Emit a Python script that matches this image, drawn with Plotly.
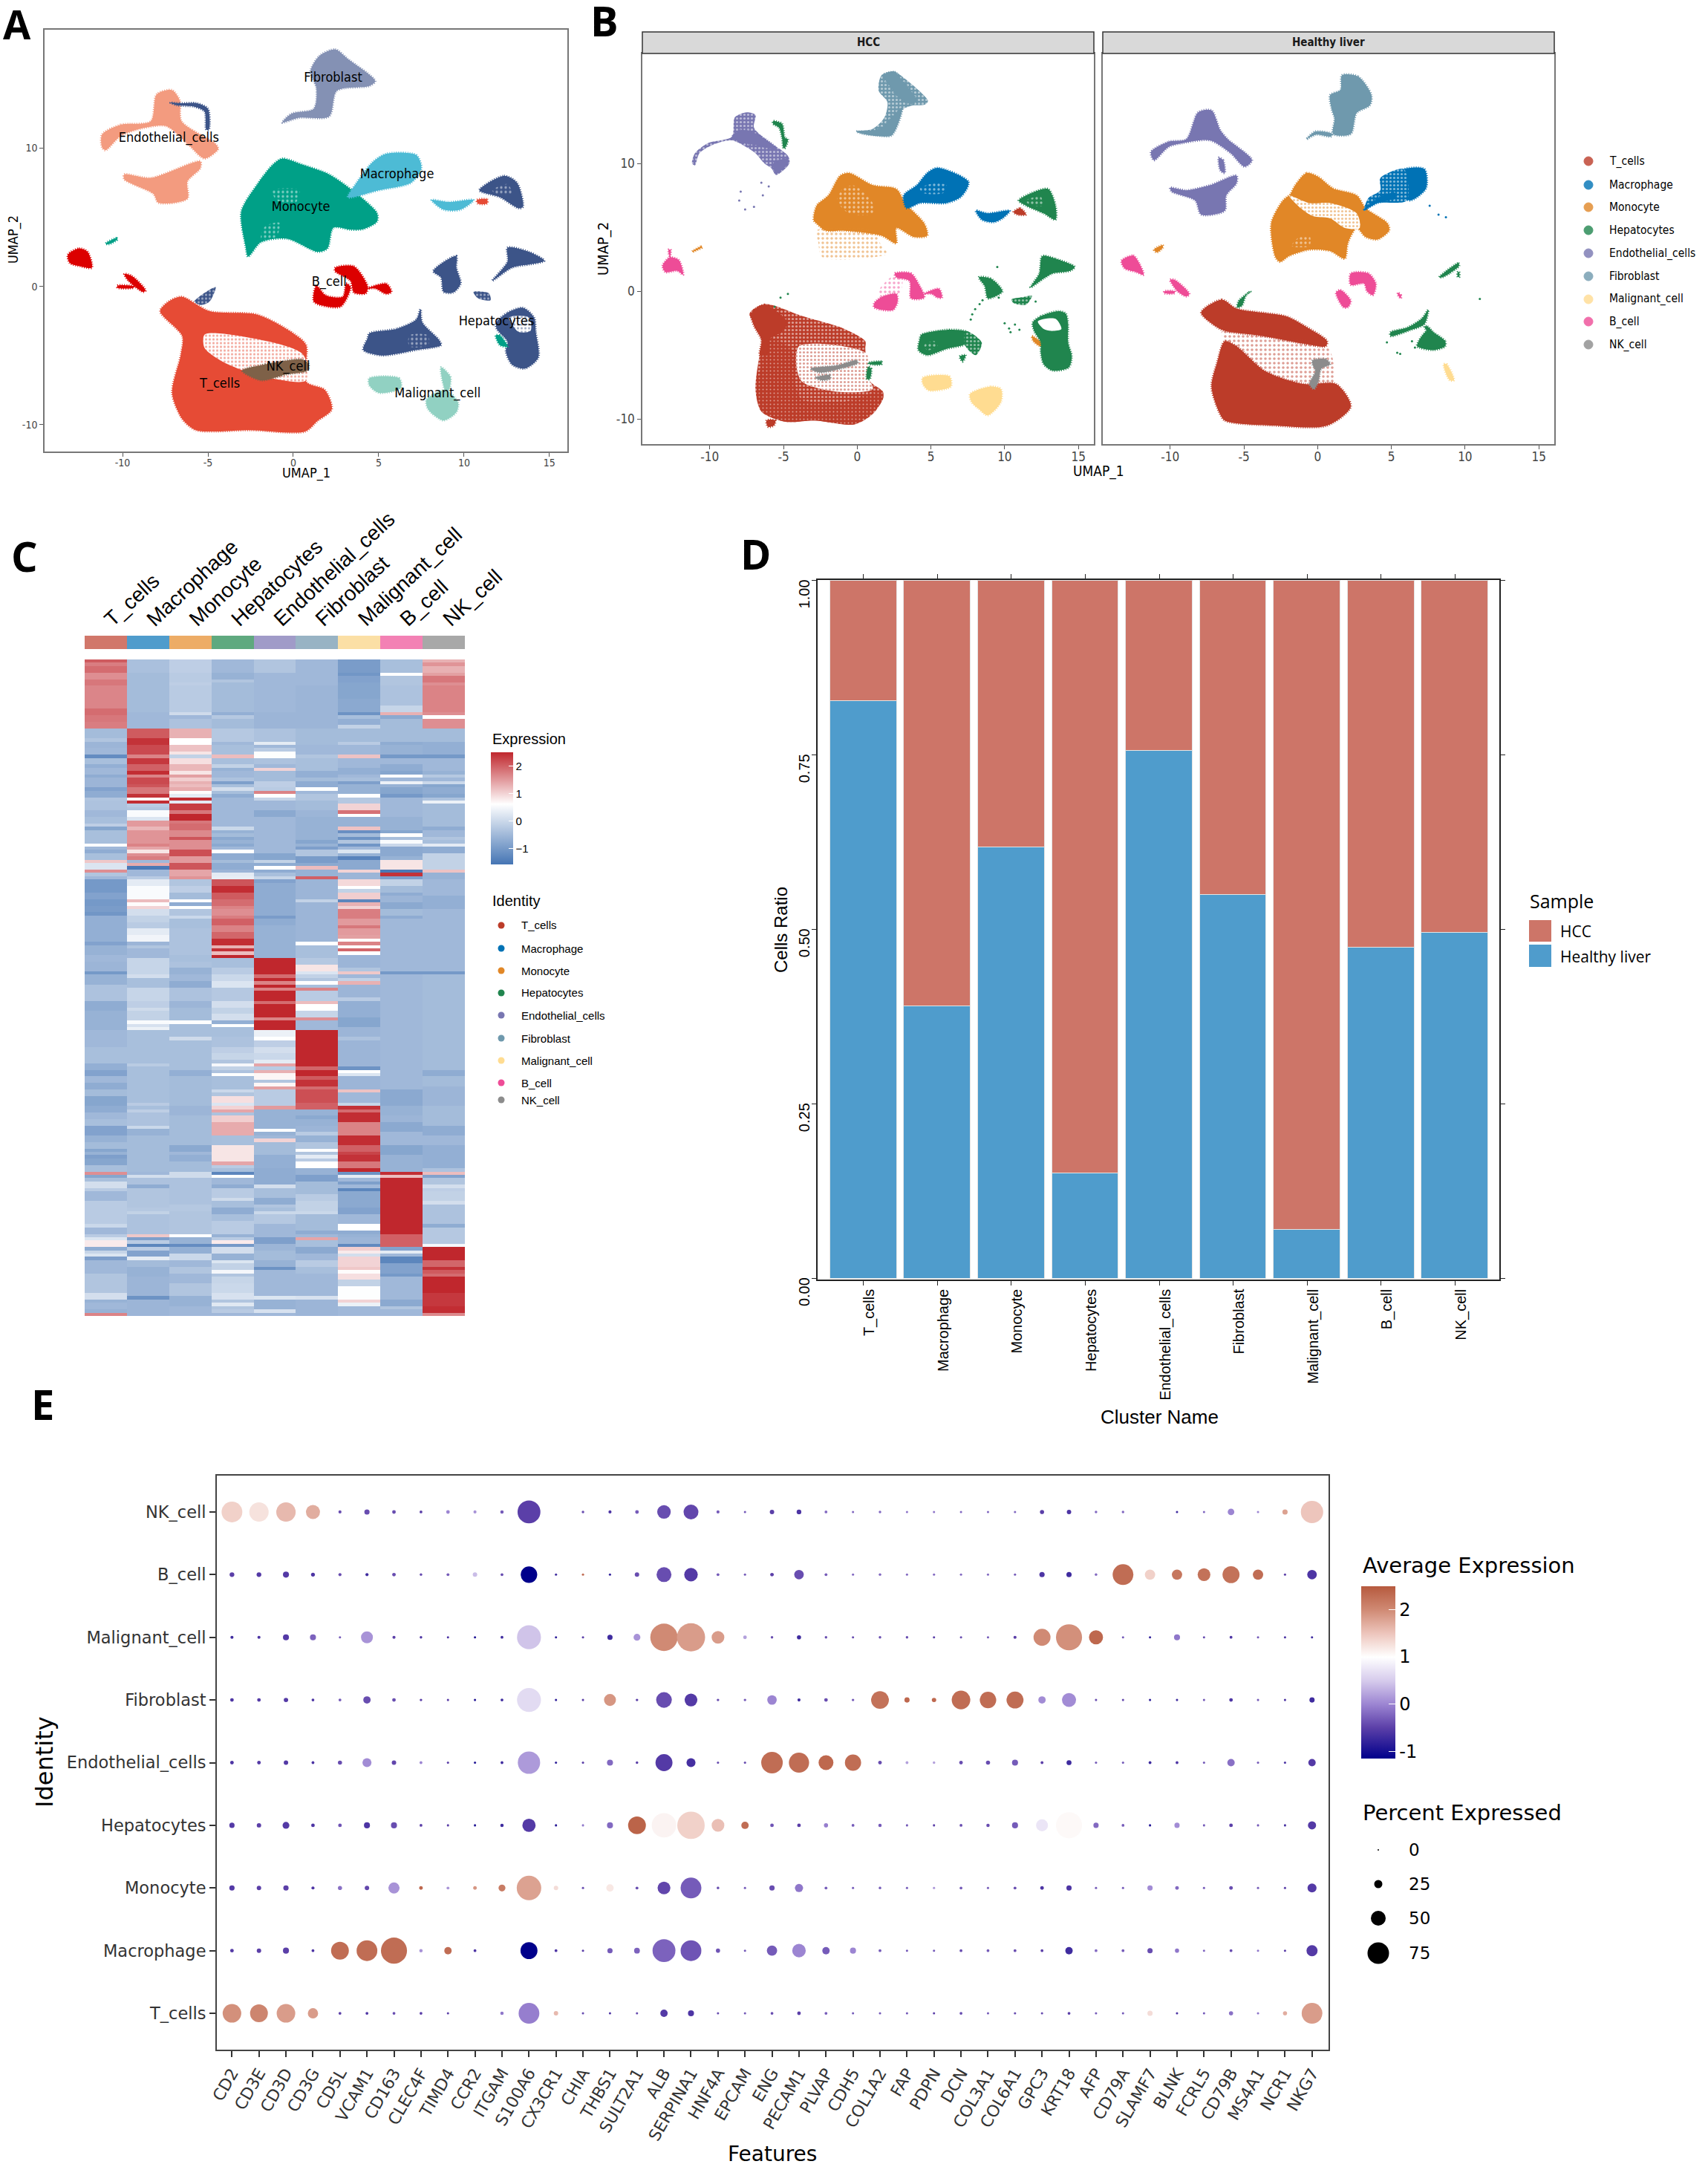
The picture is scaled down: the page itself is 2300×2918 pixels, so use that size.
"""Five-panel single-cell figure: UMAPs, marker heatmap, sample ratio bars, dot plot."""

import plotly.graph_objects as go

W, H = 2300, 2918

CLUSTERS = ["T_cells", "Macrophage", "Monocyte", "Hepatocytes", "Endothelial_cells",
            "Fibroblast", "Malignant_cell", "B_cell", "NK_cell"]

NPG = {"T_cells": "#E64B35", "Macrophage": "#4DBBD5", "Monocyte": "#00A087",
       "Hepatocytes": "#3C5488", "Endothelial_cells": "#F39B7F", "Fibroblast": "#8491B4",
       "Malignant_cell": "#91D1C2", "B_cell": "#DC0000", "NK_cell": "#7E6148"}
NEJM = {"T_cells": "#BC3C29", "Macrophage": "#0072B5", "Monocyte": "#E18727",
        "Hepatocytes": "#20854E", "Endothelial_cells": "#7876B1", "Fibroblast": "#6F99AD",
        "Malignant_cell": "#FFDC91", "B_cell": "#EE4C97", "NK_cell": "#8C8C8C"}
ANNO_COLORS = ["#D1776A", "#4F9CCC", "#EDAC66", "#5FA97F", "#A09BC8",
               "#98B3C4", "#FBDFA5", "#F381B4", "#A8A8A8"]

# ---- Panel A: cluster outlines (UMAP_1, UMAP_2)
A_T = [(-7.8,-1.8),(-7.3,-1.1),(-6.55,-0.75),(-4.9,-1.8),(-2.1,-2.05),(0,-3.4),(0.75,-4.25),(0.75,-6.9),(1.85,-7.5),(2.25,-8.9),(1.4,-9.75),(0.7,-10.5),(-2.5,-10.4),(-5.7,-10.4),(-6.5,-9.6),(-7.1,-7.7),(-6.6,-5),(-6.5,-3.6)]
A_T_VOID = [(-5.2,-3.5),(-3.65,-3.5),(0.55,-4.9),(0.75,-6.8),(-1.65,-6.55),(-3.9,-5.6),(-5.2,-4.45)]
A_NK = [(-3,-6.1),(-1.65,-5.65),(0.55,-5.3),(0.9,-5.65),(0.8,-6.1),(-0.35,-6.35),(-1.9,-6.8)]
A_ENDO_1 = [(-11.2,11),(-10.1,11.7),(-8.35,11.95),(-8,13.9),(-7.1,14.2),(-6.65,13.45),(-6.55,11.95),(-4.55,10.3),(-4.4,9.95),(-5.2,9.25),(-6.1,10.2),(-7.45,11.6),(-8.8,11.45),(-10.1,10.9),(-11,9.85),(-11.2,10.05)]
A_ENDO_2 = [(-9.9,8.1),(-8.35,7.85),(-5.45,9.05),(-5.45,8.55),(-6.2,7.6),(-6.2,6.35),(-7.9,6.05),(-8.2,6.7),(-9.9,7.75)]
A_HEP_1 = [(-7.2,13.3),(-6.65,13.25),(-5.65,13.25),(-5,12.85),(-4.95,11.35),(-5.1,11.35),(-5.2,12.65),(-5.8,13),(-6.8,13.1)]
A_FIB = [(1.55,16.7),(2.45,17.15),(3.2,16.45),(4.8,14.85),(4.45,14.5),(2.55,14.15),(2.1,12.3),(0.35,12.2),(-0.65,11.85),(-0.1,12.5),(1.2,12.85),(1.35,14.35),(1,15.55)]
A_MONO = [(-1.2,8.8),(-0.65,9.25),(0.55,8.8),(2.1,8.1),(3.45,6.95),(4.9,5.3),(4.9,4.7),(4.1,4.15),(3.35,4.1),(2.35,4.25),(2,2.75),(1.45,2.5),(-0.35,3.45),(-1.9,3.2),(-2.65,2.15),(-2.8,2.95),(-3.05,5.4),(-2.1,7.4)]
A_MONO_VOID_1 = [(-1.65,4.35),(-0.8,4.6),(-1,3.6),(-1.9,3.4)]
A_MONO_VOID_2 = [(-1.2,6.95),(0.35,6.95),(0.1,6),(-1,6.25)]
A_MAC_1 = [(5.45,9.6),(7.2,9.5),(7.5,8.55),(6.9,7.5),(5,6.95),(3.2,6.45),(3.65,7.4),(4.65,9)]
A_MAC_2 = [(8.1,6.25),(9.1,6.1),(10.55,6.25),(9.8,5.55),(8.8,5.55)]
A_HEP_2 = [(10.9,6.95),(12.35,8),(13.1,7.5),(13.45,5.75),(13.2,5.65),(12.1,6.45)]
A_HEP_2_VOID = [(11.65,6.95),(12.55,7.4),(12.8,6.7),(11.9,6.7)]
A_T_2 = [(10.75,6.25),(11.35,6.3),(11.35,6),(10.8,6)]
A_B_1 = [(-13.2,2.3),(-12.55,2.75),(-12.05,2.5),(-11.8,1.35),(-12.45,1.45),(-13.1,1.7)]
A_B_2 = [(-9.9,0.9),(-9.45,0.75),(-8.65,-0.3),(-8.8,-0.4),(-9.65,0.4)]
A_B_3 = [(-10.3,0.05),(-9.35,0),(-9.35,-0.1),(-10.3,-0.1)]
A_B_4 = [(2.45,1.35),(3.55,1.45),(4.35,0),(4.25,-0.5),(3.55,-0.45),(3.35,0.4),(2.45,1.1)]
A_B_5 = [(1.35,0.05),(1.9,-0.65),(2.9,-0.75),(3.1,0.2),(3.35,-0.05),(2.8,-1.45),(1.9,-1.45),(1.2,-1.1)]
A_B_6 = [(4.35,-0.15),(5.45,0.2),(5.75,-0.4),(5.45,-0.55),(4.8,-0.15)]
A_MONO_2 = [(-11,3.1),(-10.35,3.5),(-10.3,3.4),(-10.8,3.05)]
A_HEP_3 = [(4.45,-3.4),(6.1,-3.05),(7.2,-2.4),(7.45,-1.65),(7.55,-2.6),(8.55,-3.9),(8.65,-4.25),(7.2,-4.6),(5.2,-5),(4.1,-4.6),(4.35,-3.75)]
A_HEP_3_VOID = [(6.8,-3.55),(7.9,-3.55),(7.9,-4.25),(6.8,-4.35)]
A_HEP_4 = [(11.9,-2.6),(12.55,-1.9),(13.45,-1.55),(14.1,-2.25),(14.2,-3.3),(14.35,-5.15),(13.55,-5.95),(12.8,-5.65),(12.45,-4.7),(12.55,-4),(11.9,-3.05)]
A_HEP_4_VOID = [(12.65,-2.25),(13.8,-2.25),(13.9,-3.2),(13.2,-3.3)]
A_HEP_5 = [(12.55,2.8),(13.8,2.5),(14.7,1.85),(13.9,1.6),(12.8,1.35),(11.65,0.4),(12.55,1.8)]
A_HEP_6 = [(8.2,1.1),(9.55,2.2),(9.55,1.35),(9.8,0.2),(9.35,-0.45),(8.8,-0.4),(8.65,0.65)]
A_HEP_7 = [(10.55,-0.4),(11.45,-0.5),(11.55,-1),(10.8,-0.85)]
A_HEP_8 = [(-5.8,-1.1),(-4.55,-0.05),(-4.9,-1.1),(-5.4,-1.35)]
A_MONO_3 = [(11.85,-3.55),(12.1,-3.55),(12.55,-4.35),(12.1,-4.25)]
A_MAL_1 = [(4.45,-6.65),(6.2,-6.65),(6.3,-7.35),(5,-7.7),(4.45,-7.15)]
A_MAL_2 = [(7.8,-8.2),(8.9,-7.5),(9.65,-8.4),(9.55,-9.1),(8.8,-9.7),(7.9,-8.9)]
A_MAL_3 = [(8.65,-5.85),(9.2,-6.55),(9.1,-7.5),(8.9,-7.5)]

A_LAYERS = [("T_cells", "solid", A_T), ("T_cells", "void", A_T_VOID), ("NK_cell", "solid", A_NK),
            ("Endothelial_cells", "solid", A_ENDO_1), ("Endothelial_cells", "solid", A_ENDO_2),
            ("Hepatocytes", "solid", A_HEP_1), ("Fibroblast", "solid", A_FIB),
            ("Monocyte", "solid", A_MONO), ("Monocyte", "pock", A_MONO_VOID_1), ("Monocyte", "pock", A_MONO_VOID_2),
            ("Macrophage", "solid", A_MAC_1), ("Macrophage", "solid", A_MAC_2),
            ("Hepatocytes", "solid", A_HEP_2), ("Hepatocytes", "pock", A_HEP_2_VOID), ("T_cells", "solid", A_T_2),
            ("B_cell", "solid", A_B_1), ("B_cell", "solid", A_B_2), ("B_cell", "solid", A_B_3),
            ("B_cell", "solid", A_B_4), ("B_cell", "solid", A_B_5), ("B_cell", "solid", A_B_6),
            ("Monocyte", "solid", A_MONO_2), ("Hepatocytes", "solid", A_HEP_3), ("Hepatocytes", "pock", A_HEP_3_VOID),
            ("Hepatocytes", "solid", A_HEP_4), ("Hepatocytes", "void", A_HEP_4_VOID), ("Monocyte", "solid", A_MONO_3),
            ("Hepatocytes", "solid", A_HEP_5), ("Hepatocytes", "solid", A_HEP_6), ("Hepatocytes", "mid", A_HEP_7),
            ("Hepatocytes", "mid", A_HEP_8), ("Malignant_cell", "solid", A_MAL_1),
            ("Malignant_cell", "solid", A_MAL_2), ("Malignant_cell", "solid", A_MAL_3)]

A_LABELS = ["Fibroblast", "Endothelial_cells", "Macrophage", "Monocyte", "B_cell",
            "Hepatocytes", "NK_cell", "T_cells", "Malignant_cell"]
A_LABEL_X = [2.33, -7.29, 6.07, 0.44, 2.1, 11.9, -0.3, -4.3, 8.45]
A_LABEL_Y = [15.07, 10.7, 8.05, 5.7, 0.3, -2.55, -5.86, -7.07, -7.77]

# ---- Panel B, HCC
HCC_T = [(-7.3,-1.75),(-6.3,-1),(-3.7,-1.95),(-0.95,-2.9),(0.55,-3.9),(0.55,-4.5),(0.85,-7),(1.75,-7.85),(1.75,-8.4),(1.05,-9.6),(-0.15,-10.4),(-2.9,-10.1),(-4.9,-10.2),(-6.5,-9.4),(-6.9,-7.7),(-6.7,-5.5),(-6.4,-3.5)]
HCC_T_VOID = [(-3.95,-4.3),(-2.55,-4.1),(0.65,-4.9),(0.75,-6.65),(1.05,-7.65),(-1.35,-7.85),(-3.75,-7.05),(-4.15,-5.5)]
HCC_T_DENSE = [(-6.8,-7.65),(-6.5,-5.7),(-6,-3.7),(-4.5,-4.5),(-4.15,-7.45),(-3.75,-8.45),(-0.95,-8.65),(1.65,-7.85),(1.75,-8.4),(0.85,-9.6),(-0.15,-10.4),(-2.9,-10.1),(-4.9,-10.2),(-6.5,-9.4)]
HCC_T_BLOB = [(-7.2,-1.75),(-6.3,-1.05),(-5.5,-1.55),(-4.7,-2.5),(-5.3,-3.3),(-5.9,-3.7),(-6.1,-4.9),(-6.6,-5),(-6.5,-3.8),(-7,-2.7)]
HCC_T_FOOT = [(-6.15,-10.1),(-5.55,-10.1),(-5.65,-10.5),(-6.05,-10.6)]
HCC_T_2 = [(10.6,6.2),(11.05,6.5),(11.45,6),(10.85,6)]
HCC_NK_1 = [(-3.15,-6.05),(-1.35,-5.8),(-0.05,-5.4),(0.05,-5.6),(-1.15,-6.05),(-2.55,-6.35)]
HCC_NK_2 = [(-2.85,-6.75),(-1.85,-6.55),(-1.85,-6.85),(-2.45,-6.95)]
HCC_ENDO = [(-11.2,10),(-11,10.8),(-10.1,11.6),(-8.5,12.1),(-8.3,13.6),(-7.5,14),(-6.9,13.8),(-7,12.8),(-6.1,11.8),(-4.7,10.6),(-4.6,10),(-5.5,9.1),(-5.8,9.6),(-6.3,10),(-6.9,10.8),(-7.7,11.4),(-8.5,11.8),(-9.7,11.5),(-10.7,10.8),(-11,9.85)]
HCC_ENDO_1 = [(-8.5,12),(-7.9,12.6),(-7,12.4),(-5.5,11.2),(-5.7,11.1),(-6.7,11.4),(-7.7,11.6)]
HCC_ENDO_2 = [(-5.7,10),(-4.7,10.4),(-4.7,10),(-5.5,9.2)]
HCC_HEP_STRIP = [(-5.7,13.3),(-5.1,13.1),(-4.9,12),(-4.7,11.9),(-4.9,11.2),(-5,11.2),(-5.1,12),(-5.3,12.8),(-5.7,13.1)]
HCC_FIB = [(1.65,16.9),(2.45,17.2),(3.05,16.8),(4.8,14.9),(4.6,14.6),(3.65,14.5),(2.65,13.9),(2.25,12.2),(0.05,12.4),(-0.05,12.5),(1.05,12.7),(1.85,13.6),(2.05,14.8),(1.45,15.7)]
HCC_FIB_1 = [(1.75,16.9),(2.55,17.15),(3.05,16.5),(4.05,14.9),(3.65,14.65),(2.85,15.1),(2.05,16.3)]
HCC_FIB_2 = [(-0.05,12.5),(0.65,12.5),(1.65,12.8),(2.65,14),(3.05,14.3),(2.35,12.2),(1.25,12.2),(0.45,12.3)]
HCC_MONO = [(-1.15,9.05),(-0.55,9.25),(1.05,8.3),(2.65,8),(3.25,6.9),(4.55,5.3),(4.75,4.35),(3.85,4.25),(2.65,4.95),(2.65,3.75),(1.65,4.35),(-0.95,4.75),(-2.15,4.75),(-2.75,5.3),(-2.95,5.55),(-2.75,6.7),(-1.95,7.5)]
HCC_MONO_VOID = [(-0.95,8.05),(-0.15,8.25),(1.05,6.9),(1.05,6.1),(-0.55,6.1),(-1.35,7.1)]
HCC_MONO_TAIL = [(-2.75,4.75),(1.05,4.75),(1.65,3.55),(2.05,2.95),(-2.35,2.65),(-2.65,3.9)]
HCC_MONO_2 = [(-11.2,3.1),(-10.6,3.5),(-10.5,3.45),(-11,3.15)]
HCC_MONO_3 = [(11.85,-3.5),(12.55,-4.1),(12.45,-4.3),(11.95,-3.9)]
HCC_MAC_1 = [(5.45,9.65),(7.55,8.55),(7.05,7.4),(6.05,6.9),(4.25,6.9),(3.35,6.5),(3.15,7.5),(4.05,8.3),(4.75,9.25)]
HCC_MAC_VOID = [(4.25,8.05),(5.25,8.45),(6.05,8.3),(5.85,7.7),(4.45,7.7)]
HCC_MAC_2 = [(8.05,6.3),(8.85,6.1),(10.35,6.3),(9.85,5.7),(9.25,5.4),(8.45,5.6)]
HCC_HEP_1 = [(10.95,7.1),(11.85,7.7),(12.95,8),(13.45,6.7),(13.45,5.6),(12.65,6.1),(11.45,6.7)]
HCC_HEP_1_VOID = [(11.45,7.1),(12.45,7.4),(12.55,6.7),(11.65,6.8)]
HCC_B_1 = [(-13.2,2),(-12.7,2.65),(-12.1,2.45),(-11.8,1.3),(-12.2,1.6),(-13,1.5)]
HCC_B_2 = [(-12.8,3.25),(-12.65,3.25),(-12.7,2.65)]
HCC_B_3 = [(2.55,1.4),(3.65,1.4),(4.25,0.4),(4.55,-0.5),(3.65,-0.55),(3.55,0.8),(2.65,1.1)]
HCC_B_4 = [(1.15,-0.95),(1.65,-0.45),(2.65,-0.2),(2.75,-0.75),(2.45,-1.45),(1.65,-1.45),(1.15,-1.25)]
HCC_B_5 = [(4.55,-0.2),(5.55,0.2),(5.75,-0.5),(5.45,-0.5),(5.05,-0.2)]
HCC_B_6 = [(1.45,0),(2.45,1.2),(3.05,1),(2.85,-0.2),(1.65,-0.45)]
HCC_HEP_2 = [(12.55,2.75),(13.45,2.55),(14.75,1.9),(14.45,1.6),(13.25,1.4),(12.65,1),(11.75,0.3),(12.35,1.4)]
HCC_HEP_3 = [(8.25,1.1),(9.05,1),(9.85,0),(9.25,-0.45),(8.85,-0.55),(8.65,0.4)]
HCC_HEP_4 = [(10.45,-0.65),(11.25,-0.45),(11.85,-0.35),(11.45,-1.05),(10.65,-0.95)]
HCC_HEP_5 = [(11.9,-2.45),(12.45,-1.95),(13.65,-1.55),(14.15,-1.75),(14.3,-2.55),(14.3,-4),(14.55,-5.1),(14.35,-5.95),(13.25,-6.2),(12.65,-5.7),(12.45,-4.8),(12.45,-4),(12,-3.1)]
HCC_HEP_5_CUT = [(12.25,-2.35),(13.45,-2.15),(13.85,-2.95),(13.15,-3.1),(12.65,-2.95)]
HCC_HEP_6 = [(4.35,-3.4),(6.25,-3),(7.45,-3.2),(7.35,-4.1),(6.05,-4.5),(4.75,-5),(4.15,-4.6),(4.25,-3.7)]
HCC_HEP_6_VOID = [(4.55,-4.2),(5.25,-3.9),(5.45,-4.3),(4.75,-4.6)]
HCC_HEP_7 = [(7.35,-3.1),(8.45,-4),(8.05,-5),(7.35,-4.3)]
HCC_HEP_8 = [(6.95,-5.1),(7.35,-5),(7.15,-5.5)]
HCC_HEP_9 = [(0.75,-5.9),(0.95,-6.05),(0.85,-6.85),(0.65,-6.85)]
HCC_HEP_10 = [(0.75,-5.6),(1.65,-5.5),(1.65,-5.7),(0.85,-5.7)]
HCC_MAL_1 = [(4.45,-6.75),(6.25,-6.65),(6.35,-7.45),(4.85,-7.75),(4.45,-7.25)]
HCC_MAL_2 = [(7.65,-8.05),(9.05,-7.45),(9.75,-7.65),(9.75,-8.65),(8.85,-9.7),(8.25,-9.2),(7.75,-8.65)]

HCC_LAYERS = [("T_cells", "mid", HCC_T), ("T_cells", "void", HCC_T_VOID), ("T_cells", "dense", HCC_T_DENSE),
              ("T_cells", "solid", HCC_T_BLOB), ("T_cells", "solid", HCC_T_FOOT), ("T_cells", "solid", HCC_T_2),
              ("NK_cell", "solid", HCC_NK_1), ("NK_cell", "solid", HCC_NK_2),
              ("Endothelial_cells", "mid", HCC_ENDO), ("Endothelial_cells", "solid", HCC_ENDO_1),
              ("Endothelial_cells", "solid", HCC_ENDO_2), ("Hepatocytes", "solid", HCC_HEP_STRIP),
              ("Fibroblast", "mid", HCC_FIB), ("Fibroblast", "solid", HCC_FIB_1), ("Fibroblast", "solid", HCC_FIB_2),
              ("Monocyte", "solid", HCC_MONO), ("Monocyte", "pock", HCC_MONO_VOID), ("Monocyte", "thin", HCC_MONO_TAIL),
              ("Monocyte", "solid", HCC_MONO_2), ("Monocyte", "solid", HCC_MONO_3),
              ("Macrophage", "solid", HCC_MAC_1), ("Macrophage", "pock", HCC_MAC_VOID), ("Macrophage", "solid", HCC_MAC_2),
              ("Hepatocytes", "solid", HCC_HEP_1), ("Hepatocytes", "pock", HCC_HEP_1_VOID),
              ("B_cell", "solid", HCC_B_1), ("B_cell", "solid", HCC_B_2), ("B_cell", "solid", HCC_B_3),
              ("B_cell", "solid", HCC_B_4), ("B_cell", "solid", HCC_B_5), ("B_cell", "thin", HCC_B_6),
              ("Hepatocytes", "solid", HCC_HEP_2), ("Hepatocytes", "solid", HCC_HEP_3), ("Hepatocytes", "mid", HCC_HEP_4),
              ("Hepatocytes", "solid", HCC_HEP_5), ("Hepatocytes", "cut", HCC_HEP_5_CUT),
              ("Hepatocytes", "solid", HCC_HEP_6), ("Hepatocytes", "pock", HCC_HEP_6_VOID), ("Hepatocytes", "mid", HCC_HEP_7),
              ("Hepatocytes", "solid", HCC_HEP_8), ("Hepatocytes", "solid", HCC_HEP_9), ("Hepatocytes", "solid", HCC_HEP_10),
              ("Malignant_cell", "solid", HCC_MAL_1), ("Malignant_cell", "solid", HCC_MAL_2)]

HCC_STRAY_ENDO_X = [-6.5, -7.9, -8, -7.6, -7, -6.4, -6]
HCC_STRAY_ENDO_Y = [8.5, 7.8, 7.1, 6.4, 6.6, 7.5, 8.2]
HCC_STRAY_HEP_X = [-4.7, -5.2, -5.6, 9.5, 8.5, 8.3, 8, 7.8, 7.7, 10, 10.3, 10.7, 11, 10.4, 9.6, 12.1]
HCC_STRAY_HEP_Y = [-0.2, -0.5, -1.2, 1.9, -0.7, -1, -1.4, -1.8, -2.2, -2.5, -2.9, -2.6, -3, -3.2, -0.5, -0.8]

# ---- Panel B, Healthy liver
HL_T_1 = [(-7.9,-1.65),(-6.5,-0.65),(-5.5,-1.35),(-2.15,-1.95),(-0.95,-2.65),(0.65,-3.9),(0.55,-4.3),(-0.95,-4.1),(-3.75,-3.5),(-6.3,-3.1),(-6.9,-2.75)]
HL_T_2 = [(-6.3,-3.9),(-5.5,-4.3),(-3.55,-6.25),(-0.95,-7.25),(1.25,-7.25),(2.25,-9),(0.65,-10.5),(-2.95,-10.5),(-6.3,-10.1),(-6.7,-9.4),(-7.2,-7.45),(-6.8,-5.5)]
HL_T_MID = [(-6.5,-3.1),(-3.75,-3.5),(0.65,-4.3),(1.05,-7.25),(-0.95,-7.25),(-3.55,-6.25),(-5.5,-4.3),(-6.3,-3.9)]
HL_NK = [(-0.35,-5.4),(0.55,-5.3),(0.85,-5.7),(0.25,-6.05),(0.05,-7.05),(-0.25,-7.65),(-0.55,-7.25),(-0.15,-6.25),(-0.35,-5.7)]
HL_HEP_1 = [(-5.35,-0.75),(-4.55,0),(-4.85,-0.3),(-5.15,-1.15),(-5.45,-1.25)]
HL_ENDO_1 = [(-11.3,10.9),(-10.1,11.7),(-8.9,11.9),(-8.1,14),(-7.2,14.15),(-6.6,12.6),(-6.1,11.9),(-4.45,10.25),(-4.95,9.75),(-5.9,10.8),(-7.3,11.8),(-9.1,11.6),(-10.1,11.3),(-11.1,10.25)]
HL_ENDO_2 = [(-10,8.1),(-8.9,7.9),(-7.3,8.3),(-5.5,9.05),(-5.5,8.45),(-6.2,7.5),(-6.3,6.3),(-7.9,6),(-8.3,7.1),(-9.9,7.8)]
HL_ENDO_3 = [(-6.7,10.45),(-6.4,10.25),(-6.3,9.25),(-6.6,9.45)]
HL_FIB = [(1.65,16.9),(2.75,16.8),(3.65,15.35),(3.55,14.55),(2.65,13.95),(2.25,12.3),(1.05,12.3),(1.15,13.5),(0.95,14.25),(0.85,15.35),(1.55,15.75)]
HL_FIB_TAIL = [(-0.75,11.9),(-0.15,12.5),(1,12.3),(0.9,12.1),(-0.1,12.25)]
HL_MONO = [(-1.55,8.25),(-0.75,9.25),(0.05,8.95),(1.05,8.05),(2.65,7.5),(3.25,6.5),(4.75,5.3),(4.85,4.75),(4.05,4.05),(3.25,4.25),(2.65,4.95),(2.05,3.75),(1.85,2.55),(0.85,3.15),(-0.55,3.25),(-1.95,2.75),(-2.55,2.3),(-2.85,2.65),(-3.15,5.3),(-2.35,7.1),(-1.85,7.6)]
HL_MONO_VOID_1 = [(-1.95,7.5),(-0.55,6.9),(0.85,6.9),(2.65,6.1),(2.85,4.95),(1.85,4.95),(0.85,5.7),(-0.35,5.9),(-1.15,6.5)]
HL_MONO_VOID_2 = [(-1.35,4.15),(-0.55,4.35),(-0.55,3.55),(-1.75,3.55)]
HL_MONO_2 = [(-11.1,3.25),(-10.5,3.6),(-10.5,3.4),(-10.9,3.05)]
HL_MAC_1 = [(5.85,9.55),(7.25,9.55),(7.35,8.05),(6.25,7.1),(5.25,7.95),(5.25,8.85)]
HL_MAC_2 = [(4.25,8.85),(5.85,9.55),(6.05,7.1),(4.05,6.9),(3.15,6.3),(3.45,7.3),(4.25,7.9)]
HL_MAC_3 = [(3.15,6.4),(4.25,7.4),(5.25,7.7),(5.25,7.3),(4.05,6.9)]
HL_B_1 = [(-13.3,2.4),(-12.5,2.8),(-12.1,2.2),(-11.8,1.3),(-12.3,1.5),(-13.1,1.8)]
HL_B_2 = [(-10,0.9),(-9.7,0.9),(-8.7,-0.2),(-8.9,-0.4),(-9.5,0)]
HL_B_3 = [(-10.4,0),(-9.7,0),(-9.7,-0.15),(-10.4,-0.15)]
HL_B_4 = [(2.25,1.4),(3.45,1.4),(3.95,0.6),(3.75,-0.3),(3.35,0),(3.15,0.6),(2.25,0.5)]
HL_B_5 = [(1.25,-0.1),(1.55,0.1),(2.25,-0.75),(2.05,-1.25),(1.75,-1.25)]
HL_B_6 = [(5.45,-0.1),(5.65,-0.3),(5.65,-0.55),(5.45,-0.3)]
HL_HEP_2 = [(8.25,1.1),(9.55,2.2),(9.6,2),(8.95,1.4),(8.45,1.1)]
HL_HEP_3 = [(9.5,1.5),(9.6,1.5),(9.6,1.1),(9.5,1.15)]
HL_HEP_4 = [(7.5,-1.45),(7.25,-2.55),(6.25,-3.05),(4.95,-3.5),(4.95,-3.2),(6.05,-2.85),(7.05,-2.15)]
HL_HEP_5 = [(7.45,-3.1),(8.65,-3.9),(8.65,-4.3),(7.85,-4.6),(6.75,-4.3),(6.85,-3.9)]
HL_HEP_6 = [(7.25,-2.75),(7.45,-2.75),(8.05,-3.6),(7.75,-3.6)]
HL_MAL = [(8.55,-5.7),(8.75,-5.7),(9.25,-6.95),(8.95,-6.95)]

HL_LAYERS = [("T_cells", "solid", HL_T_1), ("T_cells", "solid", HL_T_2), ("T_cells", "thin", HL_T_MID),
             ("NK_cell", "solid", HL_NK), ("Hepatocytes", "solid", HL_HEP_1),
             ("Endothelial_cells", "solid", HL_ENDO_1), ("Endothelial_cells", "solid", HL_ENDO_2),
             ("Endothelial_cells", "solid", HL_ENDO_3), ("Fibroblast", "solid", HL_FIB), ("Fibroblast", "solid", HL_FIB_TAIL),
             ("Monocyte", "solid", HL_MONO), ("Monocyte", "void", HL_MONO_VOID_1), ("Monocyte", "pock", HL_MONO_VOID_2),
             ("Monocyte", "solid", HL_MONO_2), ("Macrophage", "solid", HL_MAC_1), ("Macrophage", "mid", HL_MAC_2),
             ("Macrophage", "solid", HL_MAC_3), ("B_cell", "solid", HL_B_1), ("B_cell", "solid", HL_B_2),
             ("B_cell", "solid", HL_B_3), ("B_cell", "solid", HL_B_4), ("B_cell", "solid", HL_B_5), ("B_cell", "solid", HL_B_6),
             ("Hepatocytes", "solid", HL_HEP_2), ("Hepatocytes", "solid", HL_HEP_3), ("Hepatocytes", "solid", HL_HEP_4),
             ("Hepatocytes", "solid", HL_HEP_5), ("Hepatocytes", "solid", HL_HEP_6), ("Malignant_cell", "solid", HL_MAL)]

HL_STRAY_HEP_X = [4.7, 5.4, 5.6, 11, 6.4, 6.6]
HL_STRAY_HEP_Y = [-4, -4.8, -4.9, -0.6, -3.9, -4.4]
HL_STRAY_MAC_X = [7.6, 8.2, 8.7]
HL_STRAY_MAC_Y = [6.7, 6.0, 5.8]

# ---- Panel C: heatmap rows, one list per column as (row the run ends at, z)
HM_T = [(1,2.05),(2,1.75),(4,1.9),(6,1.6),(8,1.8),(15,1.68),(17,1.9),(19,1.8),(21,1.75),(24,-0.45),(25,-0.3),(27,-0.55),(29,-0.5),(30,-1.2),(32,-0.4),(33,-0.65),(35,-0.5),(36,-0.7),(39,-0.55),(40,-0.85),(42,-0.7),(43,-0.3),(46,-0.35),(48,-0.5),(50,-0.4),(51,-0.15),(52,-0.8),(56,-0.4),(57,0.62),(58,-0.5),(59,-0.7),(61,-0.4),(62,1.1),(64,0.2),(65,1.6),(66,-0.3),(67,-0.5),(71,-1),(73,-0.85),(75,-1),(77,-0.95),(78,-1.05),(86,-0.65),(87,-0.85),(90,-0.6),(92,-0.5),(95,-0.55),(96,-1),(99,-0.6),(104,-0.35),(107,-0.7),(113,-0.6),(118,-0.5),(123,-0.4),(125,-0.65),(127,-0.85),(129,-0.5),(131,-0.7),(133,-0.45),(136,-0.8),(138,-0.7),(140,-0.5),(142,-0.4),(145,-0.85),(147,-0.6),(149,-0.45),(150,-0.8),(151,-0.6),(152,-0.9),(154,-0.8),(156,-0.4),(157,1.6),(158,-0.8),(159,-0.4),(161,0.1),(162,-0.2),(165,-0.5),(172,-0.2),(173,0),(175,-0.5),(176,-0.2),(177,0.2),(179,0.8),(180,-0.7),(181,-0.05),(182,0.2),(183,-0.9),(187,-0.5),(188,-0.3),(193,-0.3),(195,0.1),(196,-0.6),(198,-0.5),(199,-0.6),(200,1.7)]
HM_MAC = [(4,-0.38),(8,-0.45),(16,-0.45),(21,-0.5),(24,2.05),(26,2.4),(29,2.2),(30,1.7),(32,2.35),(34,2),(35,2.45),(36,1.7),(38,2.2),(39,2.1),(41,1.8),(42,2.4),(43,0.7),(44,2.45),(45,-0.2),(46,-0.3),(48,0.55),(49,0.2),(51,1.5),(52,1.25),(56,1.55),(57,1.7),(58,1.4),(59,0.85),(60,1.6),(61,1.75),(62,-0.5),(63,1.35),(64,-1.5),(66,-0.5),(67,-0.2),(69,0.3),(73,0.55),(74,1.2),(75,0.65),(76,1),(78,0.1),(80,-0.1),(82,-0.2),(84,0.3),(86,0.45),(87,-0.55),(88,-0.3),(91,-0.5),(93,-0.05),(96,-0.05),(97,0.1),(100,-0.4),(104,-0.05),(106,-0.15),(107,0.05),(110,-0.1),(111,0.55),(112,0.15),(113,0.4),(123,-0.4),(124,-0.2),(135,-0.4),(136,-0.2),(137,-0.4),(138,-0.15),(142,-0.35),(143,0),(145,-0.6),(156,-0.45),(157,-0.5),(158,0.1),(160,-0.35),(161,-0.7),(167,-0.3),(168,-0.25),(169,-0.1),(175,-0.35),(176,1.1),(177,-0.9),(178,-0.2),(179,-1.3),(180,-0.2),(182,-0.85),(183,0.3),(185,-0.45),(188,-0.6),(194,-0.55),(195,-1.1),(200,-0.55)]
HM_MONO = [(4,-0.15),(7,-0.2),(8,-0.15),(16,-0.2),(17,0.05),(18,-0.5),(21,-0.35),(24,1.3),(26,0.62),(28,1.15),(29,0.85),(30,-0.1),(32,0.9),(34,1.25),(35,0.85),(36,1.45),(37,1.05),(38,1.3),(39,1.2),(40,1.35),(41,0.65),(42,0.3),(43,2.45),(44,0.3),(46,2.3),(47,1.8),(49,2.5),(50,1.8),(52,1.9),(54,1.65),(55,2.1),(58,1.6),(60,2.15),(62,1.5),(64,2.1),(66,1.4),(67,1.55),(69,-0.3),(71,-0.15),(73,-0.45),(74,0.6),(75,-0.7),(76,0.6),(78,-0.3),(79,0),(82,-0.4),(90,-0.35),(92,-0.4),(94,-0.35),(96,-0.6),(98,-0.5),(100,-0.7),(104,-0.35),(106,-0.55),(110,-0.45),(111,0.6),(115,-0.4),(116,0.05),(125,-0.4),(127,-0.65),(136,-0.45),(139,-0.55),(148,-0.45),(150,-0.75),(151,-0.5),(153,-0.65),(156,-0.45),(158,0.05),(166,-0.35),(168,-0.25),(175,-0.3),(176,0.62),(178,-0.6),(179,-1.2),(181,-0.65),(183,0),(185,-0.5),(187,-0.3),(190,-0.5),(194,-0.3),(197,-0.6),(200,-0.5)]
HM_HEP = [(4,-0.5),(6,-0.6),(7,-0.3),(16,-0.45),(17,-0.65),(18,-0.25),(21,-0.45),(25,-0.25),(26,-0.5),(29,-0.4),(30,1.2),(32,-0.4),(33,-0.1),(34,-0.6),(36,-0.5),(37,-0.35),(38,-0.9),(39,-0.4),(40,0.1),(41,-0.4),(42,-0.7),(51,-0.5),(52,0),(53,-0.6),(54,-0.45),(55,-0.75),(56,-0.6),(57,-0.75),(58,-0.5),(59,0.62),(61,-0.7),(62,-0.45),(64,-0.7),(65,-0.55),(66,0.3),(67,0.35),(69,2.1),(71,2.45),(73,2.05),(75,1.9),(76,1.7),(78,1.6),(79,1.75),(81,2),(83,1.7),(85,1.95),(87,2.45),(88,1.3),(89,2.4),(90,1.2),(91,2.5),(94,-0.4),(96,-0.2),(98,0),(100,0.2),(104,-0.25),(106,0.1),(108,-0.1),(110,0.1),(111,-0.65),(112,0.6),(115,-0.4),(118,-0.35),(120,-0.15),(122,-0.05),(123,-0.3),(124,0.5),(125,-0.1),(126,-0.35),(127,0.6),(131,-0.4),(132,0),(133,-0.3),(135,0.9),(136,0.2),(137,1),(138,1.4),(139,-0.35),(141,1.05),(145,1.35),(148,-0.4),(153,0.85),(154,1.4),(155,-0.2),(156,-0.4),(157,-1.3),(158,0.6),(160,-0.5),(161,-0.7),(164,-0.2),(165,0.05),(167,-0.4),(169,-0.7),(171,-0.4),(175,-0.2),(176,-0.6),(177,-0.2),(178,0.8),(179,-1),(181,0.1),(183,-0.6),(184,0.2),(186,-0.1),(187,0.5),(188,-0.3),(190,-0.05),(193,0),(195,0.15),(196,-0.3),(197,0.25),(198,-0.3),(199,-0.2),(200,-0.5)]
HM_ENDO = [(4,-0.3),(16,-0.5),(21,-0.55),(25,-0.35),(26,0.3),(27,-0.5),(28,-0.2),(30,0.6),(32,-0.35),(33,-0.5),(34,1),(37,-0.45),(39,-0.15),(40,-0.2),(41,1.7),(42,0.62),(43,-0.05),(46,-0.5),(48,-0.75),(59,-0.5),(61,-0.8),(62,-0.1),(63,-0.7),(64,0.62),(65,-0.7),(66,-0.4),(67,-0.05),(68,-0.85),(78,-0.7),(79,-0.95),(81,-0.7),(91,-0.6),(96,2.5),(97,1.9),(98,2.5),(99,1.7),(100,2.5),(101,1.7),(104,2.5),(105,1.9),(109,2.5),(110,1.7),(113,2.5),(115,0.4),(116,0.62),(118,-0.15),(120,0.1),(122,0),(123,0.3),(124,1.4),(125,-0.2),(126,1.3),(128,0.7),(129,-0.3),(130,0.7),(131,1.45),(136,-0.2),(137,1.5),(143,-0.6),(144,0.62),(145,-0.6),(146,-0.5),(147,1),(151,-0.45),(155,-0.65),(160,-0.7),(161,0.1),(164,-0.4),(166,-0.7),(167,-0.3),(168,-0.4),(169,0),(172,-0.25),(176,-0.5),(178,-0.9),(180,-0.55),(183,-0.45),(185,-0.6),(186,-1.1),(194,-0.5),(195,0.2),(198,-0.6),(199,0.15),(200,-0.5)]
HM_FIB = [(8,-0.5),(21,-0.55),(26,-0.45),(29,-0.5),(30,-0.3),(34,-0.4),(36,-0.65),(37,-0.45),(39,-0.7),(40,0.6),(41,-0.5),(43,-0.3),(46,-0.45),(48,-0.55),(55,-0.6),(56,-0.8),(57,-0.6),(58,-0.9),(60,-0.3),(62,-0.95),(63,-0.75),(64,1.2),(66,-0.6),(67,2),(73,-0.55),(74,-0.1),(86,-0.55),(87,0.62),(91,-0.4),(93,-0.25),(95,0.85),(96,0.2),(97,-0.1),(98,-0.3),(99,0.6),(100,-0.4),(101,1.7),(104,-0.2),(105,1.2),(107,0.62),(109,-0.05),(110,1.6),(113,-0.5),(124,2.5),(125,1.95),(127,2.5),(128,2.05),(130,2.4),(131,1.9),(135,2.15),(137,2),(139,-0.6),(140,-0.75),(142,-0.6),(144,-0.55),(145,-0.2),(147,-0.6),(149,-0.3),(150,0.6),(151,-0.3),(152,0.3),(153,-0.2),(155,0.62),(157,-0.6),(159,-0.9),(163,-0.45),(165,-0.2),(168,-0.1),(169,0),(174,-0.45),(175,-0.7),(176,-0.5),(177,1.4),(179,-0.4),(181,-0.75),(183,-0.5),(185,-0.2),(187,-0.4),(194,-0.5),(195,0.15),(200,-0.55)]
HM_MAL = [(4,-0.95),(5,-1.05),(7,-0.85),(12,-0.8),(16,-0.75),(17,-1.1),(18,-0.4),(20,-0.65),(21,-0.1),(25,-0.45),(26,-0.2),(29,-0.5),(30,1.15),(33,-0.5),(35,-0.65),(36,-0.5),(37,-0.4),(38,-0.9),(41,-0.6),(42,0.62),(44,-0.25),(46,1),(47,1.85),(48,0.62),(51,-0.6),(52,1.15),(53,-1.15),(54,-0.45),(55,-1.1),(56,-0.3),(57,-1.05),(58,-0.5),(59,0.2),(60,-0.6),(61,-1.35),(64,-0.75),(65,1),(67,-0.55),(69,0.95),(70,0.62),(71,-0.1),(73,1.05),(74,-1.3),(75,1.3),(76,1),(79,1.75),(81,1.5),(82,1.8),(84,1.5),(85,1.45),(86,0.62),(87,1.7),(88,0.62),(89,1.95),(90,0.62),(94,-0.55),(95,-0.3),(96,1.1),(97,-0.5),(98,-0.1),(99,1.3),(103,-0.55),(104,-0.2),(109,-0.65),(112,-0.8),(115,-0.55),(116,-0.35),(124,-0.55),(125,-1.1),(126,0.62),(127,0.2),(131,-0.55),(132,1.15),(135,-0.5),(136,-0.05),(137,2.4),(138,1.9),(141,2.45),(145,1.7),(148,2.45),(150,2),(151,2.25),(153,2.4),(155,1.8),(156,2.5),(157,-1.1),(158,0.3),(159,-0.5),(160,-0.9),(161,-0.5),(162,-1.3),(167,-0.75),(169,-0.85),(172,-0.5),(174,0.62),(175,-0.7),(176,-0.6),(178,-0.55),(179,-1.25),(180,1.05),(181,0.8),(182,0.1),(185,1),(186,1.1),(187,0.65),(189,0.9),(191,-0.1),(195,0.6),(196,1),(197,0.4),(200,-0.5)]
HM_B = [(4,-0.4),(5,0.62),(8,-0.3),(14,-0.35),(16,-0.05),(17,1.3),(18,-0.75),(21,-0.45),(25,-0.45),(26,-0.7),(29,-0.6),(30,-1),(32,-0.5),(34,-0.7),(35,-0.8),(36,0.62),(37,-0.5),(38,0.4),(39,-0.6),(41,-0.8),(42,-1),(48,-0.5),(52,-0.6),(53,-0.8),(54,0.6),(55,-0.4),(56,0.55),(57,0),(60,-0.75),(61,-0.6),(64,0.85),(65,-1.5),(66,2.4),(67,-0.9),(69,-0.1),(71,-0.45),(72,-0.7),(74,-0.55),(76,-0.75),(78,-0.45),(79,-0.7),(95,-0.5),(96,-1),(131,-0.5),(136,-0.75),(139,-0.6),(141,-0.55),(144,-0.75),(148,-0.5),(151,-0.8),(156,-0.6),(157,2.45),(158,1.2),(175,2.5),(179,2),(180,-0.85),(181,0.3),(182,-0.5),(184,-1.3),(187,-0.85),(188,-1),(195,-0.5),(197,-0.75),(198,-0.3),(200,-0.5)]
HM_NK = [(1,1.3),(2,1.55),(4,1.3),(5,1.45),(7,1.8),(8,1.6),(16,1.7),(17,1.6),(18,0.62),(21,1.6),(25,-0.45),(29,-0.65),(30,-1),(34,-0.5),(35,-0.6),(36,-0.25),(37,-0.5),(38,0),(39,-0.8),(41,-0.7),(42,-0.8),(43,-0.35),(44,0.4),(51,-0.45),(52,-0.7),(54,-0.5),(55,-0.3),(56,-0.4),(57,0.3),(59,-0.7),(64,-0.1),(65,1.15),(67,-0.6),(72,-0.5),(76,-0.65),(95,-0.5),(96,-1),(125,-0.45),(127,-0.7),(130,-0.45),(136,-0.55),(142,-0.45),(145,-0.7),(148,-0.5),(155,-0.65),(156,-0.35),(157,1.2),(158,-0.85),(160,-0.3),(161,0.1),(162,-0.15),(165,-0.1),(166,0.1),(172,-0.35),(173,-0.7),(178,-0.25),(179,0.5),(183,2.5),(185,1.95),(186,2.4),(187,2.05),(188,1.9),(193,2.5),(197,2.35),(199,2.45),(200,1.65)]
HM_ROWS = 200

# ---- Panel D
RATIO_HEALTHY = [0.828, 0.391, 0.618, 0.151, 0.757, 0.55, 0.070, 0.475, 0.496]
RATIO_HCC = [0.172, 0.609, 0.382, 0.849, 0.243, 0.45, 0.930, 0.525, 0.504]

# ---- Panel E: percent expressed and average expression per identity
FEATURES = ["CD2", "CD3E", "CD3D", "CD3G", "CD5L", "VCAM1", "CD163", "CLEC4F", "TIMD4", "CCR2", "ITGAM",
            "S100A6", "CX3CR1", "CHIA", "THBS1", "SULT2A1", "ALB", "SERPINA1", "HNF4A", "EPCAM", "ENG",
            "PECAM1", "PLVAP", "CDH5", "COL1A2", "FAP", "PDPN", "DCN", "COL3A1", "COL6A1", "GPC3", "KRT18",
            "AFP", "CD79A", "SLAMF7", "BLNK", "FCRL5", "CD79B", "MS4A1", "NCR1", "NKG7"]

PCT_T = [64,61,64,33,5,5,5,5,3,None,7,72,11,3,3,3,22,17,3,3,5,8,5,3,3,3,3,5,3,3,3,5,3,3,14,3,3,10,3,10,72]
EXP_T = [1.95,2.05,1.85,1.85,-.5,-.6,-.4,-.5,-.5,0,-.1,-.05,1.6,-.4,-.6,-.4,-.55,-.6,-.4,-.3,-.4,-.5,-.3,-.3,-.3,-.3,-.5,-.4,-.3,-.4,-.4,-.5,-.3,-.3,1.3,-.6,-.3,-.15,-.1,1.7,1.85]
PCT_MAC = [8,11,17,5,61,72,92,7,22,5,19,58,5,3,14,16,80,72,10,3,33,45,22,17,5,3,3,5,5,5,5,22,5,5,14,10,3,5,3,3,36]
EXP_MAC = [-.55,-.5,-.5,-.6,2.3,2.3,2.3,.1,2.3,-.6,1.0,-1.2,-.6,-.5,-.3,-.25,-.25,-.35,-.35,-.3,-.3,0,-.3,0,-.3,-.3,-.3,-.4,-.3,-.4,-.5,-.7,-.2,-.3,-.4,-.1,-.2,-.4,-.1,-.5,-.55]
PCT_MONO = [14,11,14,6,10,11,36,8,5,8,20,86,11,3,22,5,42,72,4,3,14,25,5,3,4,3,3,5,3,5,8,14,3,3,14,8,3,8,3,3,28]
EXP_MONO = [-.55,-.5,-.5,-.6,-.15,-.45,.1,2.35,.1,1.9,2.15,1.8,1.3,-.4,1.2,-.4,-.45,-.3,-.4,-.3,-.4,-.1,-.3,-.3,-.3,-.3,.1,-.3,-.3,-.4,-.6,-.6,-.3,-.3,.05,-.2,-.3,-.4,-.3,-.5,-.55]
PCT_HEP = [14,11,20,8,8,17,17,5,3,3,7,44,3,3,17,61,86,97,42,22,8,8,10,5,7,3,3,5,7,17,39,92,14,5,3,14,3,8,3,3,25]
EXP_HEP = [-.55,-.5,-.55,-.6,-.35,-.6,-.4,-.5,-.5,-.9,-.7,-.55,-.85,-.1,-.2,2.4,1.1,1.4,1.55,2.3,-.35,-.5,-.05,-.3,-.3,-.3,-.5,-.4,-.4,-.3,.75,1.05,-.2,-.3,-.9,.05,-.3,-.5,-.3,-.65,-.55]
PCT_ENDO = [8,8,11,5,10,28,11,5,3,3,5,78,3,3,17,4,58,28,3,3,75,70,50,55,8,5,4,8,10,17,5,13,3,3,5,5,3,22,3,3,22]
EXP_ENDO = [-.6,-.55,-.55,-.6,-.4,.05,-.45,0,-.5,-.9,-.7,.15,-.8,-.5,-.2,-.5,-.55,-.65,-.4,-.4,2.3,2.3,2.35,2.3,-.4,.2,.2,-.4,-.4,-.3,-.5,-.7,-.3,-.3,-.7,-.6,-.3,-.15,-.3,-.6,-.55]
PCT_FIB = [8,8,11,5,5,22,8,4,3,3,5,84,3,3,39,4,53,42,4,4,30,6,8,4,61,14,11,64,56,58,22,47,3,3,3,3,3,8,3,3,14]
EXP_FIB = [-.6,-.55,-.55,-.6,-.3,-.4,-.4,-.5,-.5,-.9,-.7,.65,-.8,-.5,1.9,-.5,-.4,-.55,-.4,-.3,0,-.7,-.4,-.3,2.25,2.35,2.35,2.3,2.3,2.3,.05,.05,-.4,-.4,-.8,-.7,-.3,-.6,-.3,-.6,-.7]
PCT_MAL = [6,6,17,17,3,39,6,4,3,3,5,84,3,3,14,20,97,100,42,8,4,10,4,3,4,4,3,3,3,6,58,92,47,3,3,17,3,5,3,3,3]
EXP_MAL = [-.7,-.6,-.55,-.25,-.3,.1,-.5,-.6,-.6,-.9,-.7,.45,-.8,-.5,-.7,.1,2.0,1.85,1.85,.2,-.4,-.7,-.4,-.4,-.4,-.4,-.5,-.4,-.3,-.5,2.0,1.95,2.35,-.3,-.8,-.1,-.4,-.6,-.3,-.6,-.7]
PCT_B = [12,12,17,9,6,6,8,4,5,11,5,56,3,3,3,11,50,45,5,3,8,30,5,3,4,3,3,3,3,3,14,14,4,72,33,33,42,58,33,3,30]
EXP_B = [-.5,-.55,-.55,-.6,-.4,-.7,-.4,-.4,-.3,.4,-.4,-1.15,-.7,2.3,-.8,-.4,-.4,-.55,-.3,-.3,-.5,-.4,-.3,-.2,-.2,-.2,-.2,-.2,-.2,-.3,-.6,-.7,-.2,2.3,1.4,2.2,2.25,2.25,2.3,-.5,-.6]
PCT_NK = [72,67,67,47,6,14,8,5,8,6,7,80,2,4,6,8,45,50,6,3,11,12,5,3,4,3,3,3,3,3,10,11,4,4,None,3,3,19,3,14,78]
EXP_NK = [1.4,1.25,1.6,1.7,-.4,-.4,-.4,-.5,0,.1,-.3,-.5,1.0,-.4,-.6,-.3,-.4,-.45,-.3,-.3,-.5,-.6,-.2,-.2,-.2,-.1,-.1,-.2,-.2,-.2,-.5,-.6,-.2,-.2,0,-.7,-.2,0,0,1.8,1.5]

IDENTITIES = ["T_cells", "Macrophage", "Monocyte", "Hepatocytes", "Endothelial_cells",
              "Fibroblast", "Malignant_cell", "B_cell", "NK_cell"]
PCT_ROWS = [PCT_T, PCT_MAC, PCT_MONO, PCT_HEP, PCT_ENDO, PCT_FIB, PCT_MAL, PCT_B, PCT_NK]
EXP_ROWS = [EXP_T, EXP_MAC, EXP_MONO, EXP_HEP, EXP_ENDO, EXP_FIB, EXP_MAL, EXP_B, EXP_NK]
PCT_LEGEND = [0, 25, 50, 75]

DOT_SCALE = [[0, "#00008B"], [0.178, "#5B3FA8"], [0.315, "#9C85D2"], [0.452, "#D6CBEC"], [0.589, "#FFFFFF"],
             [0.726, "#EDC5BC"], [0.863, "#D08A74"], [1, "#B65A3E"]]
HEAT_SCALE = [[0, "#4575B4"], [0.538, "#FFFFFF"], [1, "#C0272D"]]

SANS = "Liberation Sans"
COND = "DejaVu Sans Condensed"
DEJA = "DejaVu Sans"


def xdom(left, right):
    return [left / W, right / W]


def ydom(top, bottom):
    return [1 - bottom / H, 1 - top / H]


def dot_size(pct):
    return 2 + 0.36 * pct


def expand_runs(runs):
    col = []
    for end, val in runs:
        col.extend([val] * (end - len(col)))
    col.extend([col[-1]] * (HM_ROWS - len(col)))
    return col


fig = go.Figure()


def add_layers(layers, palette, xa, ya):
    for name, style, poly in layers:
        xs = [p[0] for p in poly]
        ys = [p[1] for p in poly]
        xs.append(xs[0])
        ys.append(ys[0])
        color = palette[name]
        kw = dict(x=xs, y=ys, xaxis=xa, yaxis=ya, mode="lines", fill="toself",
                  showlegend=False, hoverinfo="skip")
        bare = dict(width=0, shape="spline", smoothing=0.8)
        if style == "solid":
            kw.update(fillcolor=color, line=dict(color=color, width=3, dash="1px,2px", shape="spline", smoothing=0.8))
        elif style == "cut":
            kw.update(fillcolor="white", line=bare)
        elif style == "void":
            kw.update(fillcolor="white", line=bare,
                      fillpattern=dict(shape=".", fgcolor=color, bgcolor="white", size=5, solidity=0.3))
        elif style == "pock":
            kw.update(fillcolor="rgba(0,0,0,0)", line=bare,
                      fillpattern=dict(shape=".", fgcolor="white", bgcolor="rgba(0,0,0,0)", size=6, solidity=0.25))
        elif style == "dense":
            kw.update(fillcolor=color, line=bare,
                      fillpattern=dict(shape=".", fgcolor="white", bgcolor=color, size=5, solidity=0.12))
        elif style == "mid":
            kw.update(fillcolor=color, line=bare,
                      fillpattern=dict(shape=".", fgcolor="white", bgcolor=color, size=5, solidity=0.3))
        else:
            kw.update(fillcolor="rgba(0,0,0,0)", line=bare,
                      fillpattern=dict(shape=".", fgcolor=color, bgcolor="rgba(0,0,0,0)", size=6, solidity=0.28))
        fig.add_trace(go.Scatter(**kw))


add_layers(A_LAYERS, NPG, "x", "y")
add_layers(HCC_LAYERS, NEJM, "x2", "y2")
add_layers(HL_LAYERS, NEJM, "x3", "y3")


def add_stray(xs, ys, color, xa, ya):
    fig.add_trace(go.Scatter(x=xs, y=ys, xaxis=xa, yaxis=ya, mode="markers",
                             marker=dict(size=3, color=color), showlegend=False, hoverinfo="skip"))


add_stray(HCC_STRAY_ENDO_X, HCC_STRAY_ENDO_Y, NEJM["Endothelial_cells"], "x2", "y2")
add_stray(HCC_STRAY_HEP_X, HCC_STRAY_HEP_Y, NEJM["Hepatocytes"], "x2", "y2")
add_stray(HL_STRAY_HEP_X, HL_STRAY_HEP_Y, NEJM["Hepatocytes"], "x3", "y3")
add_stray(HL_STRAY_MAC_X, HL_STRAY_MAC_Y, NEJM["Macrophage"], "x3", "y3")

# cluster labels on panel A
fig.add_trace(go.Scatter(x=A_LABEL_X, y=A_LABEL_Y, text=A_LABELS, mode="text", xaxis="x", yaxis="y",
                         textfont=dict(family=COND, size=18, color="black"), showlegend=False, hoverinfo="skip"))

# panel C annotation bar and heatmap
fig.add_trace(go.Bar(x=list(range(9)), y=[1] * 9, width=[1] * 9, xaxis="x4", yaxis="y4",
                     marker=dict(color=ANNO_COLORS, line=dict(width=0)), showlegend=False, hoverinfo="skip"))
hm_cols = [expand_runs(c) for c in (HM_T, HM_MAC, HM_MONO, HM_HEP, HM_ENDO, HM_FIB, HM_MAL, HM_B, HM_NK)]
hm_z = [list(row) for row in zip(*hm_cols)]
fig.add_trace(go.Heatmap(z=hm_z, x=list(range(9)), y=list(range(HM_ROWS)), xaxis="x5", yaxis="y5",
                         colorscale=HEAT_SCALE, zmin=-1.57, zmax=2.5,
                         colorbar=dict(x=661 / W, xanchor="left", xpad=0, ypad=0, y=1 - 1088.5 / H, yanchor="middle",
                                       thicknessmode="pixels", thickness=30, lenmode="pixels", len=151,
                                       outlinewidth=0, tickvals=[-1, 0, 1, 2], ticks="inside", ticklen=6,
                                       tickcolor="white", tickfont=dict(family=SANS, size=15, color="black"))))

# panel D stacked ratio bars
fig.add_trace(go.Bar(x=CLUSTERS, y=RATIO_HEALTHY, xaxis="x6", yaxis="y6", width=0.9, showlegend=False,
                     marker=dict(color="#4F9CCC", line=dict(color="#E4E4E4", width=1))))
fig.add_trace(go.Bar(x=CLUSTERS, y=RATIO_HCC, xaxis="x6", yaxis="y6", width=0.9, showlegend=False,
                     marker=dict(color="#CD7568", line=dict(color="#E4E4E4", width=1))))

# panel E dot plot
dot_x, dot_y, dot_s, dot_c = [], [], [], []
for ident, pcts, exps in zip(IDENTITIES, PCT_ROWS, EXP_ROWS):
    for feat, pct, val in zip(FEATURES, pcts, exps):
        if pct is None:
            continue
        dot_x.append(feat)
        dot_y.append(ident)
        dot_s.append(dot_size(pct))
        dot_c.append(val)
fig.add_trace(go.Scatter(x=dot_x, y=dot_y, xaxis="x7", yaxis="y7", mode="markers", showlegend=False,
                         marker=dict(size=dot_s, sizemode="diameter", color=dot_c, colorscale=DOT_SCALE,
                                     cmin=-1.15, cmax=2.5, opacity=1, line=dict(width=0),
                                     colorbar=dict(x=1833 / W, xanchor="left", xpad=0, ypad=0, y=1 - 2251.75 / H,
                                                   yanchor="middle", thicknessmode="pixels", thickness=46,
                                                   lenmode="pixels", len=231.5, outlinewidth=0,
                                                   tickvals=[-1, 0, 1, 2], ticktext=["-1", "0", "1", "2"],
                                                   ticks="inside", ticklen=9, tickcolor="white",
                                                   tickfont=dict(family=DEJA, size=24, color="black")))))


# ---- axes
def umap_x(left, right, anchor):
    return dict(domain=xdom(left, right), range=[-14.57, 16.05], anchor=anchor, tickvals=[-10, -5, 0, 5, 10, 15],
                ticktext=["-10", "-5", "0", "5", "10", "15"], ticks="outside", ticklen=5, tickcolor="#555",
                ticklabelstandoff=-4, showgrid=False, zeroline=False, showline=True, mirror=True,
                linecolor="#777", linewidth=1.5)


def umap_y(top, bottom, anchor, labels=True):
    axis = dict(domain=ydom(top, bottom), range=[-11.95, 18.6], anchor=anchor, showgrid=False, zeroline=False,
                showline=True, mirror=True, linecolor="#777", linewidth=1.5)
    if labels:
        axis.update(tickvals=[-10, 0, 10], ticktext=["-10", "0", "10"], ticks="outside", ticklen=5, tickcolor="#555")
    else:
        axis.update(showticklabels=False, ticks="")
    return axis


xa1 = umap_x(60, 764, "y")
ya1 = umap_y(39.5, 608, "x")
xa1["tickfont"] = ya1["tickfont"] = dict(family=COND, size=14, color="#444")
xa2 = umap_x(865, 1473, "y2")
ya2 = umap_y(72, 598, "x2")
xa2["tickfont"] = ya2["tickfont"] = dict(family=COND, size=17, color="#444")
xa3 = umap_x(1485, 2093, "y3")
ya3 = umap_y(72, 598, "x3", labels=False)
xa3["tickfont"] = dict(family=COND, size=17, color="#444")

hidden = dict(showgrid=False, zeroline=False, showticklabels=False, ticks="", showline=False)

fig.update_layout(
    width=W, height=H, autosize=False, margin=dict(l=0, r=0, t=0, b=0, autoexpand=False), paper_bgcolor="white",
    plot_bgcolor="white", showlegend=False, barmode="stack", bargap=0,
    xaxis=xa1, yaxis=ya1, xaxis2=xa2, yaxis2=ya2, xaxis3=xa3, yaxis3=ya3,
    xaxis4=dict(domain=xdom(114, 626), range=[-0.5, 8.5], anchor="y4", **hidden),
    yaxis4=dict(domain=ydom(856, 874), range=[0, 1], anchor="x4", **hidden),
    xaxis5=dict(domain=xdom(114, 626), range=[-0.5, 8.5], anchor="y5", **hidden),
    yaxis5=dict(domain=ydom(888, 1772), range=[HM_ROWS - 0.5, -0.5], anchor="x5", **hidden),
    xaxis6=dict(domain=xdom(1101, 2019), range=[-0.62, 8.6], anchor="y6", type="category", categoryorder="array",
                categoryarray=CLUSTERS, showgrid=False, zeroline=False, showline=True, mirror="ticks", linecolor="#222",
                linewidth=1.5, ticks="outside", ticklen=6, tickcolor="#222", tickangle=-90, ticklabelshift=8,
                ticklabelstandoff=-3, tickfont=dict(family=SANS, size=20, color="black")),
    yaxis6=dict(domain=ydom(780.5, 1723), range=[-0.0015, 1.0015], anchor="x6", tickvals=[0, 0.25, 0.5, 0.75, 1],
                ticktext=["0.00", "0.25", "0.50", "0.75", "1.00"], showgrid=False, zeroline=False, showline=True,
                mirror="ticks", linecolor="#222", linewidth=1.5, ticks="outside", ticklen=6, tickcolor="#222",
                tickangle=-90, ticklabelshift=21, ticklabelstandoff=-5,
                tickfont=dict(family=SANS, size=20, color="black")),
    xaxis7=dict(domain=xdom(292, 1788.6), range=[-0.56, 40.6], anchor="y7", type="category", categoryorder="array",
                categoryarray=FEATURES, showgrid=False, zeroline=False, showline=True, mirror=True, linecolor="#444",
                linewidth=2, ticks="outside", ticklen=8, tickcolor="#333", tickwidth=2, tickangle=-60,
                tickfont=dict(family=DEJA, size=22, color="#333")),
    yaxis7=dict(domain=ydom(1987, 2760), range=[-0.58, 8.58], anchor="x7", type="category", categoryorder="array",
                categoryarray=IDENTITIES, showgrid=False, zeroline=False, showline=True, mirror=True, linecolor="#444",
                linewidth=2, ticks="outside", ticklen=8, tickcolor="#333", tickwidth=2,
                tickfont=dict(family=DEJA, size=22.5, color="#333")),
)


# ---- page-level text and legend keys, positioned in figure pixels
def text(px, py, s, family, size, color="black", xanchor="left", yanchor="middle", angle=0, bold=False, height=None):
    label = f"<b>{s}</b>" if bold else s
    fig.add_annotation(x=px / W, y=1 - py / H, xref="paper", yref="paper", text=label, showarrow=False, textangle=angle,
                       xanchor=xanchor, yanchor=yanchor, height=height, font=dict(family=family, size=size, color=color))


def box(x0, y0, x1, y1, fill, line=None, width=0):
    fig.add_shape(type="rect", xref="paper", yref="paper", x0=x0 / W, x1=x1 / W, y0=1 - y0 / H, y1=1 - y1 / H,
                  fillcolor=fill, line=dict(color=line or fill, width=width))


def circle(cx, cy, d, fill, line=None, width=0, opacity=1):
    fig.add_shape(type="circle", xref="paper", yref="paper", x0=(cx - d / 2) / W, x1=(cx + d / 2) / W,
                  y0=1 - (cy - d / 2) / H, y1=1 - (cy + d / 2) / H, fillcolor=fill, opacity=opacity,
                  line=dict(color=line or fill, width=width))


text(2, 32, "A", "Open Sans", 54, bold=True, height=50)
text(793, 27, "B", "Open Sans", 56, bold=True, height=50)
text(13, 748, "C", "Open Sans", 56, bold=True)
text(995, 745, "D", "Open Sans", 56, bold=True)
text(40, 1890, "E", "Open Sans", 56, bold=True)

text(412, 637, "UMAP_1", COND, 18, xanchor="center")
text(18, 323, "UMAP_2", COND, 18, xanchor="center", angle=-90)

# panel B strips, titles and legend
for left, right, name in [(865, 1473, "HCC"), (1485, 2093, "Healthy liver")]:
    box(left, 43, right, 72, "#D9D9D9", "#333333", 1.5)
    text((left + right) / 2, 57.5, name, COND, 15, "#1a1a1a", xanchor="center", bold=True)
text(1479, 634, "UMAP_1", COND, 19, xanchor="center")
text(812, 335, "UMAP_2", COND, 20, xanchor="center", angle=-90)
B_LEGEND_Y = [217, 249, 279, 310, 341, 372, 403, 433, 464]
for name, ly in zip(CLUSTERS, B_LEGEND_Y):
    circle(2139, ly, 12, NEJM[name], NEJM[name], 1, opacity=0.8)
    text(2165, ly, name, COND, 15.5)

# panel C column names and legends
for i, name in enumerate(CLUSTERS):
    text(132 + i * 56.9, 852, name, SANS, 28, xanchor="left", yanchor="bottom", angle=-43)
text(661, 995, "Expression", SANS, 20)
text(661, 1213, "Identity", SANS, 20)
C_LEGEND_Y = [1246, 1277, 1307, 1337, 1367, 1398, 1428, 1458, 1481]
for name, ly in zip(CLUSTERS, C_LEGEND_Y):
    circle(675, ly, 9, NEJM[name])
    text(700, ly, name, SANS, 15)

# panel D titles and legend
text(1051, 1252, "Cells Ratio", SANS, 24, xanchor="center", angle=-90)
text(1561, 1908, "Cluster Name", SANS, 26, xanchor="center")
text(2058, 1213, "Sample", "Open Sans", 25)
box(2059, 1239, 2089, 1268, "#CD7568")
box(2059, 1272, 2089, 1302, "#4F9CCC")
text(2099, 1254, "HCC", "Open Sans", 21)
text(2099, 1288, "Healthy liver", "Open Sans", 21)

# panel E titles and legends
text(60, 2373, "Identity", DEJA, 32, xanchor="center", angle=-90)
text(1040, 2900, "Features", DEJA, 28, xanchor="center")
text(1833, 2108, "Average Expression", DEJA, 29)
text(1833, 2441, "Percent Expressed", DEJA, 29)
E_LEGEND_Y = [2491, 2537, 2583, 2630]
for pct, ly in zip(PCT_LEGEND, E_LEGEND_Y):
    circle(1856, ly, dot_size(pct), "black")
    text(1895, ly, str(pct), DEJA, 23)

# the browser's default body margin would shift the page by 8 px
fig.write_html("out.html", config={"displayModeBar": False}, post_script="document.body.style.margin = '0';")
